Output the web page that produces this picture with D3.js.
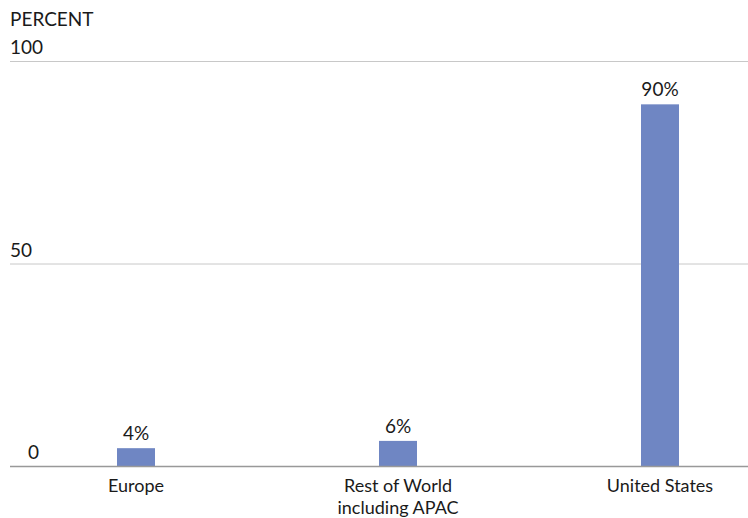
<!DOCTYPE html>
<html>
<head>
<meta charset="utf-8">
<script src="https://cdn.jsdelivr.net/npm/d3@7"></script>
<style>
  body { margin: 0; background: #fff; }
  text { font-family: Lato, "Noto Sans", sans-serif; fill: #1a1a1a; }
</style>
</head>
<body>
<div id="chart"></div>
<script>
var categories = ["Europe", "Rest of World|including APAC", "United States"];
var values = [4.4, 6.2, 89.3];
var valueLabels = ["4%", "6%", "90%"];
var yTicks = [0, 50, 100];

var width = 748, height = 518;
var plot = { left: 10, right: 748, top: 61, bottom: 466 };

var svg = d3.select("#chart")
  .append("svg")
  .attr("width", width)
  .attr("height", height);

var x = d3.scaleBand()
  .domain(categories)
  .range([5, 791]);

var y = d3.scaleLinear()
  .domain([0, 100])
  .range([plot.bottom, plot.top]);

var barWidth = 38;

// gridlines
svg.selectAll(".grid")
  .data(yTicks.filter(function(d) { return d !== 0; }))
  .enter()
  .append("line")
  .attr("x1", plot.left)
  .attr("x2", plot.right)
  .attr("y1", function(d) { return y(d) + 0.5; })
  .attr("y2", function(d) { return y(d) + 0.5; })
  .style("stroke", "#c8c8c8")
  .style("stroke-width", 1);

// tick labels
svg.selectAll(".tick-label")
  .data(yTicks)
  .enter()
  .append("text")
  .attr("x", function(d) { return d === 0 ? 28 : 10; })
  .attr("y", function(d) { return y(d) - 7; })
  .style("font-size", "19px")
  .text(function(d) { return d; });

svg.append("text")
  .attr("x", 10)
  .attr("y", 26)
  .style("font-size", "19px")
  .text("PERCENT");

// bars
svg.selectAll(".bar")
  .data(values)
  .enter()
  .append("rect")
  .attr("x", function(d, i) { return x(categories[i]) + x.bandwidth() / 2 - barWidth / 2; })
  .attr("y", function(d) { return y(d); })
  .attr("width", barWidth)
  .attr("height", function(d) { return y(0) - y(d); })
  .style("fill", "#6f86c3");

// value labels
svg.selectAll(".value")
  .data(values)
  .enter()
  .append("text")
  .attr("x", function(d, i) { return x(categories[i]) + x.bandwidth() / 2; })
  .attr("y", function(d) { return y(d) - 8; })
  .attr("text-anchor", "middle")
  .style("font-size", "19px")
  .text(function(d, i) { return valueLabels[i]; });

// baseline
svg.append("line")
  .attr("x1", plot.left)
  .attr("x2", plot.right)
  .attr("y1", y(0) + 0.5)
  .attr("y2", y(0) + 0.5)
  .style("stroke", "#999")
  .style("stroke-width", 1.5);

// category labels, one text per line
var cat = svg.selectAll(".cat")
  .data(categories)
  .enter()
  .append("g")
  .attr("transform", function(d) { return "translate(" + (x(d) + x.bandwidth() / 2) + ",0)"; });

cat.selectAll("text")
  .data(function(d) { return d.split("|"); })
  .enter()
  .append("text")
  .attr("text-anchor", "middle")
  .attr("y", function(d, i) { return 492 + i * 22; })
  .style("font-size", "18px")
  .text(function(d) { return d; });
</script>
</body>
</html>
